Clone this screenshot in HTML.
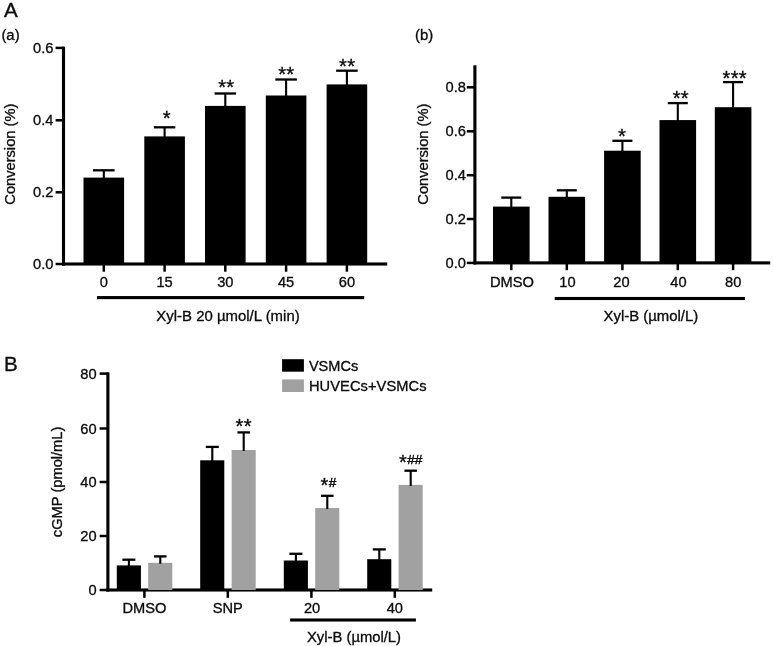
<!DOCTYPE html>
<html><head><meta charset="utf-8"><title>Figure</title>
<style>
html,body{margin:0;padding:0;background:#fff;}
body{width:773px;height:646px;overflow:hidden;font-family:"Liberation Sans",sans-serif;}
svg{display:block;}
svg text{font-family:"Liberation Sans",sans-serif;fill:#0a0a0a;stroke:#0a0a0a;stroke-width:0.32px;}
</style></head><body>
<svg width="773" height="646" viewBox="0 0 773 646" shape-rendering="auto">
<defs><filter id="soft" x="0" y="0" width="773" height="646" filterUnits="userSpaceOnUse"><feGaussianBlur stdDeviation="0.55"/></filter></defs>
<rect x="0" y="0" width="773" height="646" fill="#fff"/>
<g filter="url(#soft)">
<rect x="-5" y="-5" width="783" height="656" fill="#fff"/>
<text x="3.90" y="16.90" font-size="20.6" text-anchor="start">A</text>
<text x="4.10" y="371.10" font-size="20.6" text-anchor="start">B</text>
<text x="1.40" y="39.50" font-size="14.9" text-anchor="start">(a)</text>
<text x="415.00" y="40.20" font-size="14.9" text-anchor="start">(b)</text>
<rect x="61.95" y="46.65" width="3.10" height="218.90" fill="#000"/>
<rect x="61.95" y="262.45" width="325.25" height="3.10" fill="#000"/>
<rect x="55.60" y="46.65" width="7.90" height="2.50" fill="#000"/>
<text x="53.40" y="53.00" font-size="14.67" text-anchor="end">0.6</text>
<rect x="55.60" y="119.05" width="7.90" height="2.50" fill="#000"/>
<text x="53.40" y="125.40" font-size="14.67" text-anchor="end">0.4</text>
<rect x="55.60" y="191.05" width="7.90" height="2.50" fill="#000"/>
<text x="53.40" y="197.40" font-size="14.67" text-anchor="end">0.2</text>
<rect x="55.60" y="262.75" width="7.90" height="2.50" fill="#000"/>
<text x="53.40" y="269.10" font-size="14.67" text-anchor="end">0.0</text>
<text transform="translate(15.30,154.20) rotate(-90)" font-size="14.67" text-anchor="middle">Conversion (%)</text>
<rect x="83.50" y="177.60" width="40.60" height="86.40" fill="#000"/>
<rect x="102.75" y="170.30" width="2.10" height="8.30" fill="#000"/>
<rect x="93.05" y="169.15" width="21.50" height="2.30" fill="#000"/>
<rect x="102.55" y="264.00" width="2.50" height="7.70" fill="#000"/>
<text x="103.80" y="287.40" font-size="14.67" text-anchor="middle">0</text>
<rect x="144.30" y="136.40" width="40.60" height="127.60" fill="#000"/>
<rect x="163.55" y="127.30" width="2.10" height="10.10" fill="#000"/>
<rect x="153.85" y="126.15" width="21.50" height="2.30" fill="#000"/>
<rect x="163.35" y="264.00" width="2.50" height="7.70" fill="#000"/>
<text x="164.60" y="287.40" font-size="14.67" text-anchor="middle">15</text>
<rect x="205.00" y="105.90" width="40.60" height="158.10" fill="#000"/>
<rect x="224.25" y="93.50" width="2.10" height="13.40" fill="#000"/>
<rect x="214.55" y="92.35" width="21.50" height="2.30" fill="#000"/>
<rect x="224.05" y="264.00" width="2.50" height="7.70" fill="#000"/>
<text x="225.30" y="287.40" font-size="14.67" text-anchor="middle">30</text>
<rect x="265.80" y="95.50" width="40.60" height="168.50" fill="#000"/>
<rect x="285.05" y="79.50" width="2.10" height="17.00" fill="#000"/>
<rect x="275.35" y="78.35" width="21.50" height="2.30" fill="#000"/>
<rect x="284.85" y="264.00" width="2.50" height="7.70" fill="#000"/>
<text x="286.10" y="287.40" font-size="14.67" text-anchor="middle">45</text>
<rect x="326.60" y="84.40" width="40.60" height="179.60" fill="#000"/>
<rect x="345.85" y="70.70" width="2.10" height="14.70" fill="#000"/>
<rect x="336.15" y="69.55" width="21.50" height="2.30" fill="#000"/>
<rect x="345.65" y="264.00" width="2.50" height="7.70" fill="#000"/>
<text x="346.90" y="287.40" font-size="14.67" text-anchor="middle">60</text>
<text x="166.75" y="124.51" font-size="20.2" text-anchor="middle" letter-spacing="0.35">*</text>
<text x="226.35" y="94.41" font-size="20.2" text-anchor="middle" letter-spacing="0.35">**</text>
<text x="286.35" y="81.31" font-size="20.2" text-anchor="middle" letter-spacing="0.35">**</text>
<text x="347.15" y="72.61" font-size="20.2" text-anchor="middle" letter-spacing="0.35">**</text>
<rect x="97.00" y="296.05" width="267.20" height="3.10" fill="#000"/>
<text x="228.00" y="320.70" font-size="14.95" text-anchor="middle">Xyl-B 20 µmol/L (min)</text>
<rect x="473.35" y="65.30" width="3.10" height="199.15" fill="#000"/>
<rect x="473.35" y="261.35" width="296.85" height="3.10" fill="#000"/>
<rect x="466.80" y="86.05" width="8.10" height="2.50" fill="#000"/>
<text x="465.90" y="92.40" font-size="14.67" text-anchor="end">0.8</text>
<rect x="466.80" y="130.05" width="8.10" height="2.50" fill="#000"/>
<text x="465.90" y="136.40" font-size="14.67" text-anchor="end">0.6</text>
<rect x="466.80" y="173.95" width="8.10" height="2.50" fill="#000"/>
<text x="465.90" y="180.30" font-size="14.67" text-anchor="end">0.4</text>
<rect x="466.80" y="217.75" width="8.10" height="2.50" fill="#000"/>
<text x="465.90" y="224.10" font-size="14.67" text-anchor="end">0.2</text>
<rect x="466.80" y="261.65" width="8.10" height="2.50" fill="#000"/>
<text x="465.90" y="268.00" font-size="14.67" text-anchor="end">0.0</text>
<text transform="translate(428.40,154.20) rotate(-90)" font-size="14.67" text-anchor="middle">Conversion (%)</text>
<rect x="493.00" y="206.60" width="36.60" height="56.30" fill="#000"/>
<rect x="510.25" y="197.60" width="2.10" height="10.00" fill="#000"/>
<rect x="501.30" y="196.45" width="20.00" height="2.30" fill="#000"/>
<rect x="510.05" y="262.90" width="2.50" height="7.30" fill="#000"/>
<text x="511.90" y="287.40" font-size="14.67" text-anchor="middle">DMSO</text>
<rect x="548.50" y="196.80" width="36.60" height="66.10" fill="#000"/>
<rect x="565.75" y="190.30" width="2.10" height="7.50" fill="#000"/>
<rect x="556.80" y="189.15" width="20.00" height="2.30" fill="#000"/>
<rect x="565.55" y="262.90" width="2.50" height="7.30" fill="#000"/>
<text x="567.40" y="287.40" font-size="14.67" text-anchor="middle">10</text>
<rect x="604.10" y="150.70" width="36.60" height="112.20" fill="#000"/>
<rect x="621.35" y="140.80" width="2.10" height="10.90" fill="#000"/>
<rect x="612.40" y="139.65" width="20.00" height="2.30" fill="#000"/>
<rect x="621.15" y="262.90" width="2.50" height="7.30" fill="#000"/>
<text x="621.50" y="287.40" font-size="14.67" text-anchor="middle">20</text>
<rect x="659.50" y="120.10" width="36.60" height="142.80" fill="#000"/>
<rect x="676.75" y="103.10" width="2.10" height="18.00" fill="#000"/>
<rect x="667.80" y="101.95" width="20.00" height="2.30" fill="#000"/>
<rect x="676.55" y="262.90" width="2.50" height="7.30" fill="#000"/>
<text x="678.40" y="287.40" font-size="14.67" text-anchor="middle">40</text>
<rect x="714.80" y="107.20" width="36.60" height="155.70" fill="#000"/>
<rect x="732.05" y="82.10" width="2.10" height="26.10" fill="#000"/>
<rect x="723.10" y="80.95" width="20.00" height="2.30" fill="#000"/>
<rect x="731.85" y="262.90" width="2.50" height="7.30" fill="#000"/>
<text x="733.20" y="287.40" font-size="14.67" text-anchor="middle">80</text>
<text x="622.15" y="143.11" font-size="20.2" text-anchor="middle" letter-spacing="0.35">*</text>
<text x="680.85" y="105.01" font-size="20.2" text-anchor="middle" letter-spacing="0.35">**</text>
<text x="734.75" y="84.71" font-size="20.2" text-anchor="middle" letter-spacing="0.35">***</text>
<rect x="554.70" y="296.95" width="190.30" height="3.10" fill="#000"/>
<text x="650.90" y="320.70" font-size="14.9" text-anchor="middle">Xyl-B (µmol/L)</text>
<rect x="106.35" y="372.35" width="3.10" height="219.20" fill="#000"/>
<rect x="106.35" y="588.45" width="325.85" height="3.10" fill="#000"/>
<rect x="99.60" y="372.35" width="8.30" height="2.50" fill="#000"/>
<text x="96.60" y="378.90" font-size="14.67" text-anchor="end">80</text>
<rect x="99.60" y="427.25" width="8.30" height="2.50" fill="#000"/>
<text x="96.60" y="433.80" font-size="14.67" text-anchor="end">60</text>
<rect x="99.60" y="480.75" width="8.30" height="2.50" fill="#000"/>
<text x="96.60" y="487.30" font-size="14.67" text-anchor="end">40</text>
<rect x="99.60" y="534.75" width="8.30" height="2.50" fill="#000"/>
<text x="96.60" y="541.30" font-size="14.67" text-anchor="end">20</text>
<rect x="99.60" y="588.75" width="8.30" height="2.50" fill="#000"/>
<text x="96.60" y="595.30" font-size="14.67" text-anchor="end">0</text>
<text transform="translate(61.90,481.90) rotate(-90)" font-size="14.67" text-anchor="middle">cGMP (pmol/mL)</text>
<rect x="116.80" y="565.40" width="24.10" height="24.60" fill="#000"/>
<rect x="148.20" y="562.80" width="24.10" height="27.20" fill="#a1a1a1"/>
<rect x="127.85" y="559.70" width="2.10" height="6.70" fill="#000"/>
<rect x="122.40" y="558.55" width="13.00" height="2.30" fill="#000"/>
<rect x="159.25" y="556.40" width="2.10" height="7.40" fill="#000"/>
<rect x="154.05" y="555.25" width="12.50" height="2.30" fill="#000"/>
<rect x="143.15" y="590.00" width="2.50" height="7.80" fill="#000"/>
<text x="144.40" y="613.30" font-size="14.67" text-anchor="middle">DMSO</text>
<rect x="200.20" y="460.30" width="24.10" height="129.70" fill="#000"/>
<rect x="231.60" y="450.00" width="24.10" height="140.00" fill="#a1a1a1"/>
<rect x="211.25" y="446.90" width="2.10" height="14.40" fill="#000"/>
<rect x="205.80" y="445.75" width="13.00" height="2.30" fill="#000"/>
<rect x="242.65" y="432.40" width="2.10" height="18.60" fill="#000"/>
<rect x="237.45" y="431.25" width="12.50" height="2.30" fill="#000"/>
<rect x="226.55" y="590.00" width="2.50" height="7.80" fill="#000"/>
<text x="227.80" y="613.30" font-size="14.67" text-anchor="middle">SNP</text>
<rect x="283.80" y="560.50" width="24.10" height="29.50" fill="#000"/>
<rect x="315.20" y="508.00" width="24.10" height="82.00" fill="#a1a1a1"/>
<rect x="294.85" y="553.80" width="2.10" height="7.70" fill="#000"/>
<rect x="289.40" y="552.65" width="13.00" height="2.30" fill="#000"/>
<rect x="326.25" y="495.80" width="2.10" height="13.20" fill="#000"/>
<rect x="321.05" y="494.65" width="12.50" height="2.30" fill="#000"/>
<rect x="310.15" y="590.00" width="2.50" height="7.80" fill="#000"/>
<text x="312.10" y="613.30" font-size="14.67" text-anchor="middle">20</text>
<rect x="367.20" y="559.20" width="24.10" height="30.80" fill="#000"/>
<rect x="398.60" y="484.90" width="24.10" height="105.10" fill="#a1a1a1"/>
<rect x="378.25" y="549.40" width="2.10" height="10.80" fill="#000"/>
<rect x="372.80" y="548.25" width="13.00" height="2.30" fill="#000"/>
<rect x="409.65" y="470.70" width="2.10" height="15.20" fill="#000"/>
<rect x="404.45" y="469.55" width="12.50" height="2.30" fill="#000"/>
<rect x="393.55" y="590.00" width="2.50" height="7.80" fill="#000"/>
<text x="394.80" y="613.30" font-size="14.67" text-anchor="middle">40</text>
<rect x="290.10" y="618.45" width="125.80" height="3.10" fill="#000"/>
<text x="354.00" y="642.00" font-size="14.8" text-anchor="middle">Xyl-B (µmol/L)</text>
<text x="243.75" y="432.81" font-size="20.2" text-anchor="middle" letter-spacing="0.35">**</text>
<text x="320.6" y="491.9" font-size="20.2">*</text>
<text x="328.8" y="487.3" font-size="13.6" style="stroke-width:0.45px">#</text>
<text x="399.1" y="468.7" font-size="20.2">*</text>
<text x="407.3" y="464.2" font-size="13.6" style="stroke-width:0.45px">##</text>
<rect x="282.10" y="359.20" width="21.80" height="12.50" fill="#000"/>
<rect x="282.10" y="379.40" width="21.80" height="12.60" fill="#a1a1a1"/>
<text x="308.90" y="371.00" font-size="14.55" text-anchor="start">VSMCs</text>
<text x="308.90" y="391.30" font-size="14.67" text-anchor="start" letter-spacing="0.07">HUVECs+VSMCs</text>
</g>
</svg>
</body></html>
